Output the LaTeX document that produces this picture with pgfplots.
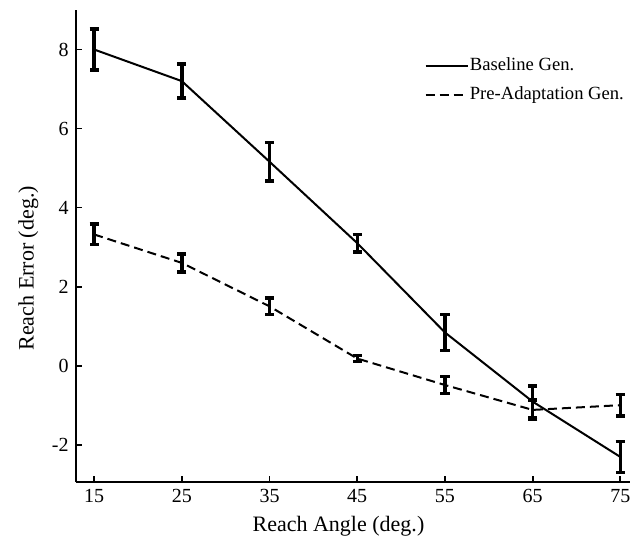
\documentclass[border=0pt]{standalone}
\usepackage{fontspec}
\setmainfont{Liberation Serif}
\usepackage{pgfplots}
\usepackage{pgfplotstable}
\pgfplotsset{compat=1.18}

% reach error per target angle: mean and s.e.
\pgfplotstableread{
x  y      e
15 8.00   0.52
25 7.20   0.43
35 5.16   0.49
45 3.10   0.22
55 0.84   0.45
65 -0.91  0.40
75 -2.31  0.39
}\baseline
\pgfplotstableread{
x  y      e
15 3.32   0.26
25 2.60   0.23
35 1.50   0.21
45 0.18   0.08
55 -0.49  0.22
65 -1.12  0.25
75 -1.00  0.27
}\preadapt

\pgfplotsset{
  errbars/.style={
    error bars/y dir=both,
    error bars/y explicit,
    error bars/error bar style={line width=1.7pt, solid, black},
    error bars/error mark options={line width=1.7pt, mark size=2.3pt, black, rotate=90},
  }
}

\begin{document}
\begin{tikzpicture}
\begin{axis}[
  scale only axis,
  width=277pt, height=236pt,
  xmin=12.9, xmax=76.1,
  ymin=-2.95, ymax=9.0,
  axis lines*=left,
  axis line style={line width=1.2pt, black},
  xtick={15,25,...,75},
  ytick={-2,0,...,8},
  tick align=inside,
  major tick length=3pt,
  tick style={line width=0.9pt, black},
  /pgf/number format/assume math mode=true,
  tick label style={font=\fontsize{10}{12}\selectfont},
  xlabel={Reach Angle (deg.)},
  ylabel={Reach Error (deg.)},
  label style={font=\fontsize{11}{13}\selectfont},
  xlabel style={at={(ticklabel cs:0.474)}},
  ylabel style={at={(ticklabel cs:0.453)}},
  legend style={at={(rel axis cs:0.618,0.911)}, anchor=north west,
    draw=none, fill=none, font=\fontsize{9.3}{11}\selectfont,
    row sep=5.5pt, nodes={inner sep=0.6pt}},
  legend cell align=left,
  legend image code/.code={\draw[#1] (0pt,0pt) -- (21pt,0pt);},
]
\addplot[black, line width=1pt, solid, errbars] table[x=x, y=y, y error=e] {\baseline};
\addlegendentry{Baseline Gen.}
\addplot[black, line width=1pt, dash pattern=on 4.5pt off 2.5pt, errbars] table[x=x, y=y, y error=e] {\preadapt};
\addlegendentry{Pre-Adaptation Gen.}
\end{axis}
\pgfresetboundingbox
\path ([shift={(-37.85pt,-30.5pt)}]current axis.south west) rectangle ([shift={(5pt,5pt)}]current axis.north east);
\end{tikzpicture}
\end{document}
